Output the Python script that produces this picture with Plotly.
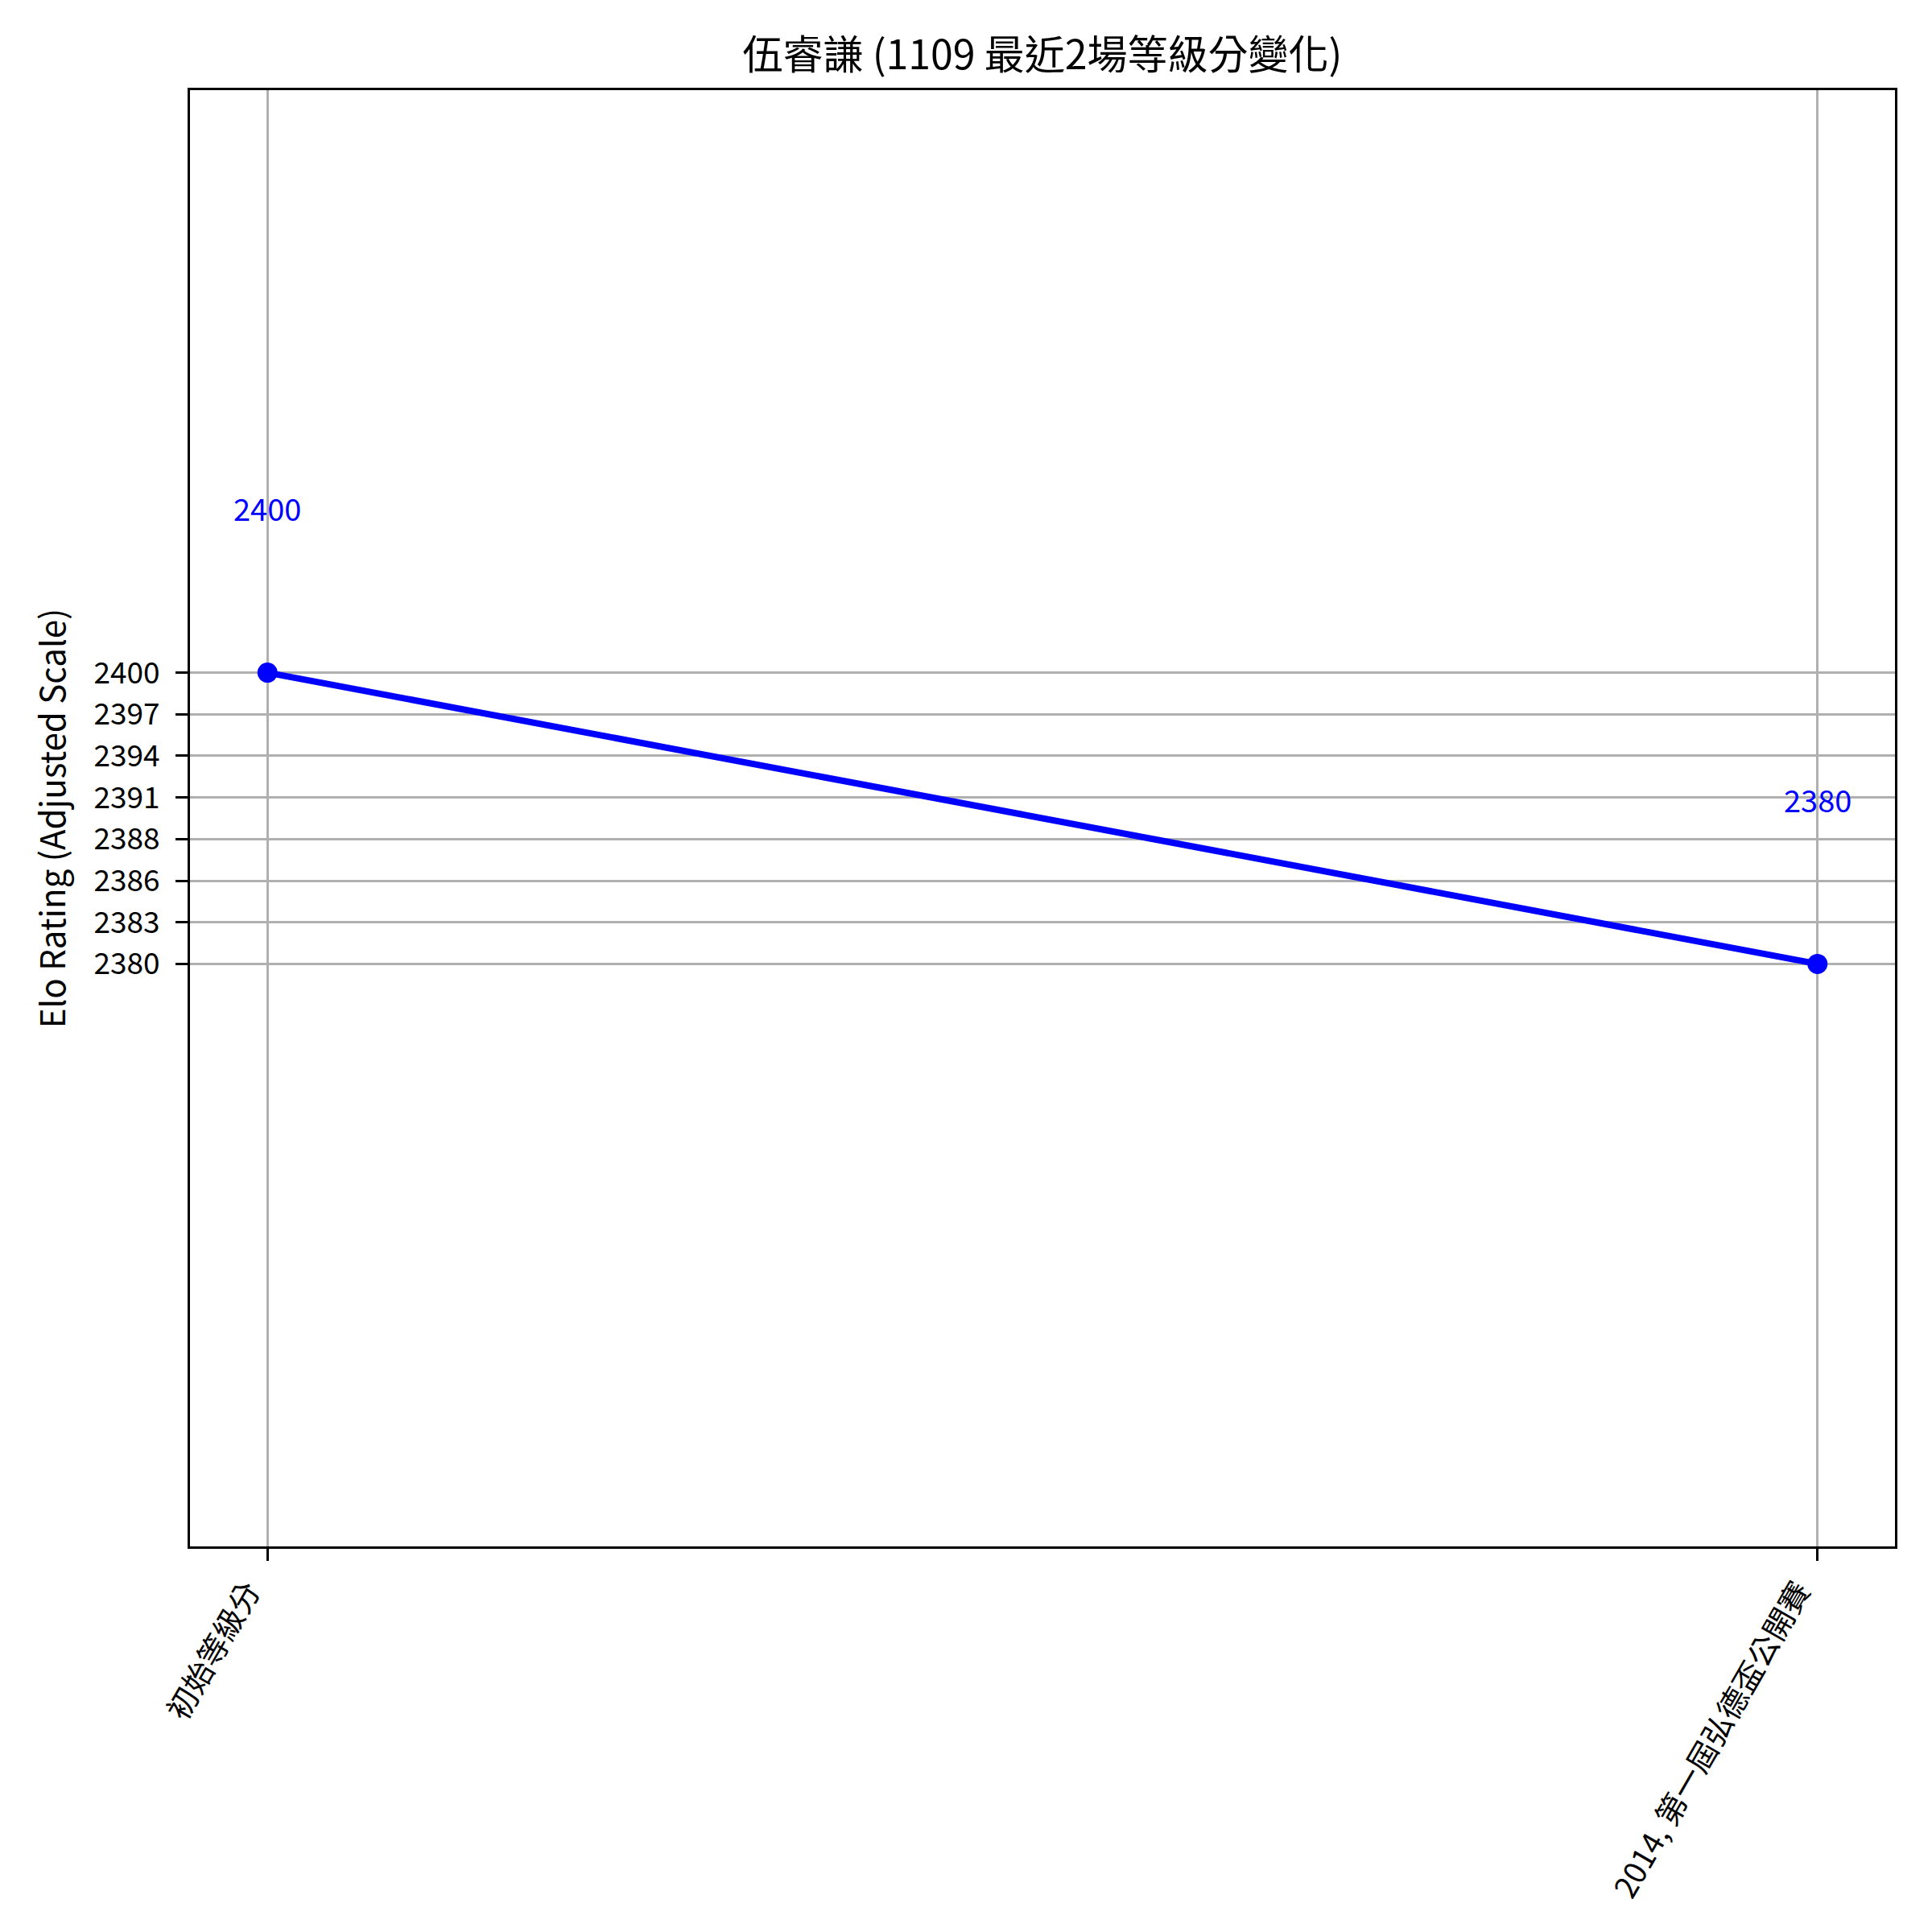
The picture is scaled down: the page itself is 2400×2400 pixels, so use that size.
import plotly.graph_objects as go
import numpy as np

# Data
categories = ["初始等級分", "2014, 第一屆弘德盃公開賽"]
ratings = [2400, 2380]
ytick_vals = list(np.linspace(2380, 2400, 8))
ytick_text = ["2380", "2383", "2386", "2388", "2391", "2394", "2397", "2400"]
title_text = "伍睿謙 (1109 最近2場等級分變化)"
ytitle = "Elo Rating (Adjusted Scale)"

FONT = "Noto Sans CJK TC, Microsoft JhengHei, sans-serif"

fig = go.Figure()
fig.add_trace(go.Scatter(
    x=categories, y=ratings, mode="lines+markers",
    line=dict(color="#0000ff", width=8),
    marker=dict(color="#0000ff", size=25),
    showlegend=False,
))

for c, r in zip(categories, ratings):
    fig.add_annotation(x=c, y=r, text=str(r), showarrow=False,
                       yshift=205, xanchor="center", yanchor="middle",
                       font=dict(family=FONT, size=38, color="#0000ff"))

fig.update_layout(
    width=2400, height=2400,
    margin=dict(l=228, r=54, t=104, b=487),
    paper_bgcolor="white", plot_bgcolor="white",
    font=dict(family=FONT, color="black"),
    title=dict(text=title_text, x=0.5, xref="paper", xanchor="center",
               y=1 - 60 / 2400, yref="container", yanchor="middle",
               font=dict(family=FONT, size=50, color="black")),
)

fig.update_xaxes(
    type="category", range=[-0.05, 1.05],
    showgrid=True, gridcolor="#b0b0b0", gridwidth=3,
    showline=True, linecolor="black", linewidth=3, mirror=True,
    ticks="outside", ticklen=15, tickwidth=3, tickcolor="black",
    tickangle=-60, tickfont=dict(family=FONT, size=38, color="black"),
    ticklabelshift=-24,
    zeroline=False,
)
fig.update_yaxes(
    range=[2340, 2440],
    tickmode="array", tickvals=ytick_vals, ticktext=ytick_text,
    showgrid=True, gridcolor="#b0b0b0", gridwidth=3,
    showline=True, linecolor="black", linewidth=3, mirror=True,
    ticks="outside", ticklen=15, tickwidth=3, tickcolor="black",
    tickfont=dict(family=FONT, size=37, color="black"),
    ticklabelstandoff=12,
    title=dict(text=ytitle, font=dict(family=FONT, size=42, color="black"), standoff=22),
    zeroline=False,
)

fig.write_html("out.html")
